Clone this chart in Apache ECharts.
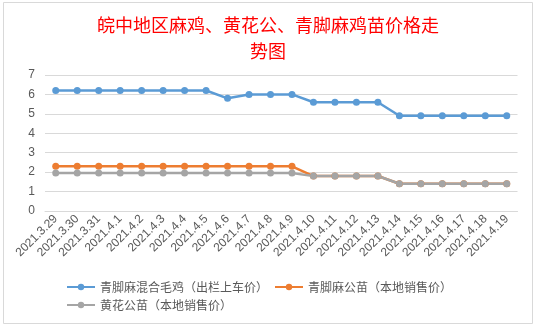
<!DOCTYPE html>
<html><head><meta charset="utf-8">
<script src="https://cdn.jsdelivr.net/npm/echarts@6/dist/echarts.min.js"></script>
<style>html,body{margin:0;padding:0;background:#fff}#c{width:536px;height:327px}</style>
</head><body><div id="c"></div>
<script>
const categories = ['2021.3.29','2021.3.30','2021.3.31','2021.4.1','2021.4.2','2021.4.3','2021.4.4','2021.4.5','2021.4.6','2021.4.7','2021.4.8','2021.4.9','2021.4.10','2021.4.11','2021.4.12','2021.4.13','2021.4.14','2021.4.15','2021.4.16','2021.4.17','2021.4.18','2021.4.19'];
const seriesNames = ['青脚麻混合毛鸡（出栏上车价）','青脚麻公苗（本地销售价）','黄花公苗（本地销售价）'];
const blueValues = [6.2,6.2,6.2,6.2,6.2,6.2,6.2,6.2,5.8,6.0,6.0,6.0,5.6,5.6,5.6,5.6,4.9,4.9,4.9,4.9,4.9,4.9];
const orangeValues = [2.3,2.3,2.3,2.3,2.3,2.3,2.3,2.3,2.3,2.3,2.3,2.3,1.8,1.8,1.8,1.8,1.4,1.4,1.4,1.4,1.4,1.4];
const grayValues = [1.95,1.95,1.95,1.95,1.95,1.95,1.95,1.95,1.95,1.95,1.95,1.95,1.8,1.8,1.8,1.8,1.4,1.4,1.4,1.4,1.4,1.4];
const yTicks = [0,1,2,3,4,5,6,7];
const titleText = '皖中地区麻鸡、黄花公、青脚麻鸡苗价格走\n势图';
</script>
<script>
const colors = ['#5B9BD5','#ED7D31','#A5A5A5'];
const values = [blueValues, orangeValues, grayValues];
const chart = echarts.init(document.getElementById('c'), null, {renderer:'canvas'});
chart.setOption({
  animation:false,
  backgroundColor:'#fff',
  graphic:[{type:'rect',shape:{x:3.5,y:2.5,width:529,height:321},style:{fill:'none',stroke:'#d9d9d9',lineWidth:1},z:-1}],
  title:{text:titleText,left:'center',top:7,textStyle:{color:'#ff0000',fontSize:18,fontWeight:'normal',fontFamily:'Noto Sans CJK SC',lineHeight:26}},
  grid:{left:45,right:18.5,top:75,bottom:116},
  legend:{left:66,top:281,width:460,padding:0,itemWidth:28,itemHeight:8,itemGap:6,
    textStyle:{color:'#595959',fontSize:12,fontFamily:'Noto Sans CJK SC'},
    data:seriesNames},
  xAxis:{type:'category',data:categories,boundaryGap:true,
    axisLine:{show:true,lineStyle:{color:'#d9d9d9'}},axisTick:{show:false},
    axisLabel:{rotate:45,interval:0,color:'#595959',fontSize:12,fontFamily:'Liberation Sans',margin:6}},
  yAxis:{type:'value',min:yTicks[0],max:yTicks[yTicks.length-1],interval:1,
    axisLine:{show:false},axisTick:{show:false},
    splitLine:{lineStyle:{color:'#d9d9d9'}},
    axisLabel:{color:'#595959',fontSize:12,fontFamily:'Liberation Sans',margin:10}},
  series:values.map((v,i)=>({name:seriesNames[i],type:'line',data:v,symbol:'circle',symbolSize:7,
    itemStyle:{color:colors[i]},lineStyle:{width:2.5,color:colors[i]}}))
});
</script></body></html>
